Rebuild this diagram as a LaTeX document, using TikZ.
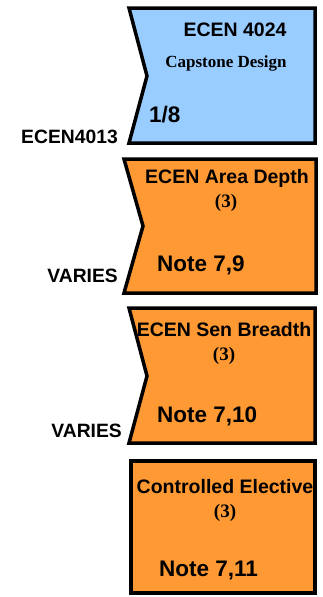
\documentclass[tikz,border=0pt]{standalone}
\usepackage{fontspec}
\setmainfont{Liberation Serif}
\newfontfamily\arialf{Liberation Sans}
\definecolor{capblue}{HTML}{99CCFF}
\definecolor{elecorange}{HTML}{FF9933}
\begin{document}
\begin{tikzpicture}[x=1pt,y=-1pt,
  box/.style={draw=black,line width=3.5pt,line join=miter},
  ttl/.style={inner sep=0pt,anchor=base,font=\arialf\bfseries\fontsize{19.5}{21}\selectfont},
  cr/.style={inner sep=0pt,anchor=base,font=\rmfamily\bfseries\fontsize{17}{19}\selectfont},
  crd/.style={inner sep=0pt,anchor=base,font=\rmfamily\bfseries\fontsize{19}{21}\selectfont},
  note/.style={inner sep=0pt,anchor=base west,font=\arialf\bfseries\fontsize{22.5}{25}\selectfont},
  pre/.style={inner sep=0pt,anchor=base east,font=\arialf\bfseries\fontsize{19.3}{21}\selectfont}]
\useasboundingbox (0,0) rectangle (323,597);
% box 1
\draw[box,fill=capblue] (129,8) -- (315,8) -- (315,143) -- (129,143) -- (147,76) -- cycle;
\node[ttl] (t1) at (235,36) {ECEN 4024};
\node[cr] (c1) at (226,67) {Capstone Design};
\node[note] (n1) at (149,122) {1/8};
\node[pre] (p1) at (118,143) {ECEN4013};
% box 2
\draw[box,fill=elecorange] (124,159) -- (316,159) -- (316,293) -- (124,293) -- (143,226) -- cycle;
\node[ttl] (t2) at (227,183) {ECEN Area Depth};
\node[crd] (c2) at (226,207) {(3)};
\node[note] (n2) at (157,271) {Note 7,9};
\node[pre] (p2) at (118,282) {VARIES};
% box 3
\draw[box,fill=elecorange] (129,308) -- (315,308) -- (315,443) -- (129,443) -- (147,376) -- cycle;
\node[ttl] (t3) at (224,336) {ECEN Sen Breadth};
\node[crd] (c3) at (224,360) {(3)};
\node[note] (n3) at (157,422) {Note 7,10};
\node[pre] (p3) at (122,437) {VARIES};
% box 4
\draw[box,fill=elecorange] (131,461) rectangle (315,593);
\node[ttl] (t4) at (225,493) {Controlled Elective};
\node[crd] (c4) at (225,517) {(3)};
\node[note] (n4) at (159,576) {Note 7,11};
\end{tikzpicture}
\end{document}
